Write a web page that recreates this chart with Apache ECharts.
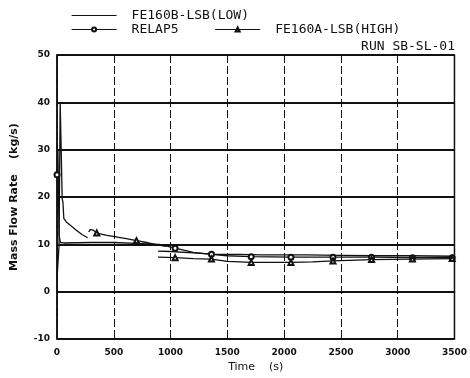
<!DOCTYPE html>
<html>
<head>
<meta charset="utf-8">
<script src="https://cdn.jsdelivr.net/npm/echarts@6/dist/echarts.min.js"></script>
<style>
  html, body { margin: 0; padding: 0; background: #fff; }
  #chart { width: 470px; height: 378px; }
</style>
</head>
<body>
<div id="chart"></div>
<script>
/* ---- data ---- */
const timeTicks = [0, 500, 1000, 1500, 2000, 2500, 3000, 3500];
const flowTicks = [-10, 0, 10, 20, 30, 40, 50];

// FE160B-LSB(LOW) - plain line
const lowTime = [0, 10, 18, 28, 40, 46, 52, 60, 80, 120, 170, 220, 270, 280, 890, 1000, 1200, 1400, 1600, 1800, 2000, 2200, 2500, 2800, 3100, 3500];
const lowFlow = [2.8, 2.8, 9.8, 40, 40, 19.5, 19.0, 15.5, 14.8, 14.0, 13.0, 12.1, 11.4, null, 8.6, 8.5, 8.2, 7.9, 7.9, 7.8, 7.8, 7.8, 7.7, 7.6, 7.6, 7.5];

// RELAP5 - line with circles
const relapTime = [0, 8, 18, 30, 60, 300, 500, 700, 900, 1040, 1200, 1360, 1500, 1710, 2060, 2430, 2770, 3130, 3480, 3500];
const relapFlow = [24.7, 30, 12, 10.4, 10.3, 10.4, 10.4, 10.2, 10.0, 9.2, 8.3, 7.9, 7.6, 7.4, 7.3, 7.3, 7.3, 7.2, 7.2, 7.2];
const relapMarks = [0, 1040, 1360, 1710, 2060, 2430, 2770, 3130, 3480];

// FE160A-LSB(HIGH) - line with triangles
const highTime = [280, 290, 320, 350, 440, 610, 700, 790, 880, 960, 970, 890, 1040, 1200, 1360, 1500, 1710, 2060, 2250, 2430, 2770, 3130, 3480, 3500];
const highFlow = [12.6, 13.1, 13.0, 12.4, 11.9, 11.2, 10.8, 10.4, 9.9, 9.6, null, 7.3, 7.2, 7.0, 6.9, 6.4, 6.2, 6.2, 6.3, 6.5, 6.8, 6.9, 7.0, 7.0];
const highMarks = [350, 700, 1040, 1360, 1710, 2060, 2430, 2770, 3130, 3480];

const INK = "#111";
const MONO = "'DejaVu Sans Mono', 'Liberation Mono', monospace";
const SANS = "'DejaVu Sans', sans-serif";

function pairs(times, values, marks) {
    return times.map((t, i) => {
        const item = { value: [t, values[i]] };
        if (marks && !marks.includes(t)) item.symbol = "none";
        return item;
    });
}

const legendText = { color: INK, fontFamily: MONO, fontSize: 13, padding: [0, 0, 0, 10] };

const chart = echarts.init(document.getElementById("chart"), null, { renderer: "canvas" });

chart.setOption({
    animation: false,
    backgroundColor: "#fff",
    grid: { left: 57, right: 15, top: 55, bottom: 34, show: true, borderColor: INK, borderWidth: 1.5 },
    legend: [
        {
            data: [{ name: "FE160B-LSB(LOW)", itemStyle: { opacity: 0 } }],
            left: 66, top: 4,
            itemWidth: 45, itemHeight: 5,
            lineStyle: { width: 1.2 },
            textStyle: legendText,
        },
        {
            data: ["RELAP5", "FE160A-LSB(HIGH)"],
            left: 66, top: 18,
            itemWidth: 45, itemHeight: 5, itemGap: 36,
            lineStyle: { width: 1.2 },
            textStyle: legendText,
        },
    ],
    graphic: [{
        type: "text", right: 15, top: 40,
        style: { text: "RUN SB-SL-01", fill: INK, font: "13px " + MONO },
    }],
    xAxis: {
        type: "value", min: timeTicks[0], max: timeTicks[timeTicks.length - 1], interval: 500,
        name: "Time    (s)", nameLocation: "middle", nameGap: 21,
        nameTextStyle: { color: INK, fontFamily: SANS, fontSize: 11 },
        axisLine: { lineStyle: { color: INK, width: 1.5 } },
        axisTick: { show: false },
        axisLabel: { color: INK, fontFamily: SANS, fontWeight: "bold", fontSize: 9, margin: 9, formatter: v => String(v) },
        splitLine: { show: true, lineStyle: { color: INK, width: 1, type: [8, 3] } },
    },
    yAxis: {
        type: "value", min: flowTicks[0], max: flowTicks[flowTicks.length - 1], interval: 10,
        name: "Mass Flow Rate    (kg/s)", nameLocation: "middle", nameGap: 37,
        nameTextStyle: { color: INK, fontFamily: SANS, fontWeight: "bold", fontSize: 11 },
        axisLine: { lineStyle: { color: INK, width: 1.5 } },
        axisTick: { show: false },
        axisLabel: { color: INK, fontFamily: SANS, fontWeight: "bold", fontSize: 9, margin: 7 },
        splitLine: { show: true, lineStyle: { color: INK, width: 1.8 } },
    },
    series: [
        {
            name: "FE160B-LSB(LOW)", type: "line", symbol: "none",
            lineStyle: { color: INK, width: 1.3 }, itemStyle: { color: INK },
            data: pairs(lowTime, lowFlow),
        },
        {
            name: "RELAP5", type: "line", symbol: "emptyCircle", symbolSize: 5, showAllSymbol: true,
            lineStyle: { color: INK, width: 1.3 }, itemStyle: { color: INK, borderColor: INK, borderWidth: 1 },
            data: pairs(relapTime, relapFlow, relapMarks),
        },
        {
            name: "FE160A-LSB(HIGH)", type: "line", symbol: "emptyTriangle", symbolSize: 5, showAllSymbol: true,
            lineStyle: { color: INK, width: 1.3 }, itemStyle: { color: INK, borderColor: INK, borderWidth: 1 },
            data: pairs(highTime, highFlow, highMarks),
        },
    ],
});
</script>
</body>
</html>
